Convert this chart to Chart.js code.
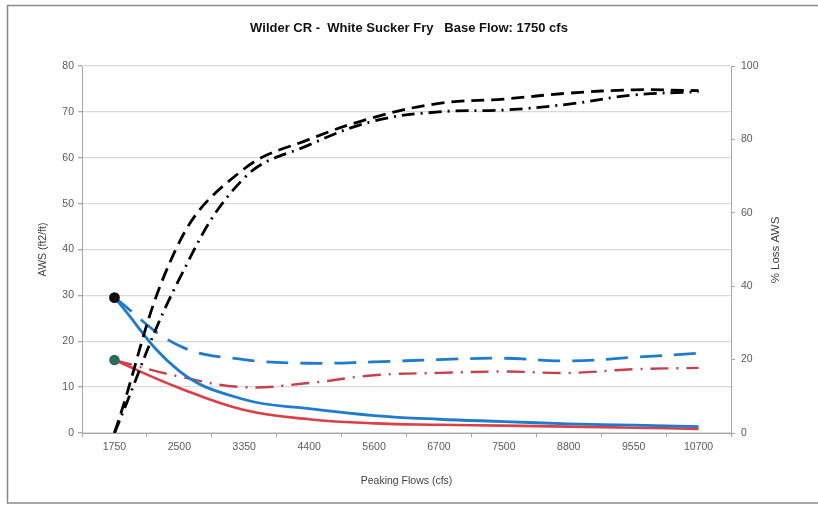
<!DOCTYPE html>
<html>
<head>
<meta charset="utf-8">
<script src="https://cdn.jsdelivr.net/npm/chart.js@4/dist/chart.umd.min.js"></script>
<style>
  html, body { margin: 0; padding: 0; background: #fff; }
  #wrap { width: 818px; height: 505px; position: relative; }
</style>
</head>
<body>
<div id="wrap"><canvas id="c" width="818" height="505"></canvas></div>
<script>
// ---- data ----
const categories = ['1750', '2500', '3350', '4400', '5600', '6700', '7500', '8800', '9550', '10700'];
const awsBlue    = [29.5, 13.5, 7.3, 5.3, 3.8, 3.0, 2.5, 2.0, 1.7, 1.4];
const awsRed     = [15.9, 9.8, 5.0, 3.0, 2.1, 1.8, 1.6, 1.4, 1.15, 0.9];
const awsBlueDash = [29.5, 19.0, 16.0, 15.2, 15.5, 16.0, 16.3, 15.7, 16.5, 17.4];
const awsRedDash  = [15.9, 12.3, 10.0, 10.9, 12.6, 13.1, 13.4, 13.1, 13.9, 14.2];
const lossDash    = [0, 52, 72, 80, 86.0, 89.8, 91.0, 92.6, 93.5, 93.3];
const lossDashDot = [0, 42, 69.5, 78.5, 85.0, 87.5, 88.0, 89.6, 92.1, 93.0];
const leftTicks  = [0, 80, 10];   // min, max, step
const rightTicks = [0, 100, 20];

const chartTitle = 'Wilder CR -  White Sucker Fry   Base Flow: 1750 cfs';
const xTitle = 'Peaking Flows (cfs)';
const yTitle = 'AWS (ft2/ft)';
const y1Title = '% Loss AWS';

const FONT = "'Liberation Sans', Arial, sans-serif";
const firstOnly = (r) => (ctx) => ctx.dataIndex === 0 ? r : 0;

const frame = {
  id: 'frame',
  beforeDraw(chart) {
    const ctx = chart.ctx;
    ctx.save();
    ctx.fillStyle = '#ffffff';
    ctx.fillRect(0, 0, chart.width, chart.height);
    ctx.strokeStyle = '#8a8a8a';
    ctx.lineWidth = 1.5;
    ctx.strokeRect(7.5, 5.5, 830, 497.5);
    ctx.restore();
  },
  afterDraw(chart) {
    const ctx = chart.ctx;
    ctx.save();
    ctx.fillStyle = '#404040';
    ctx.font = '11.5px ' + FONT;
    ctx.textAlign = 'center';
    ctx.textBaseline = 'middle';
    ctx.translate(776, 250);
    ctx.rotate(-Math.PI / 2);
    ctx.fillText(y1Title, 0, 0);
    ctx.restore();
  }
};

new Chart(document.getElementById('c'), {
  type: 'line',
  data: {
    labels: categories,
    datasets: [
      { data: lossDash, yAxisID: 'y1', borderColor: '#000', borderWidth: 2.8, borderDash: [13, 7], pointRadius: 0, tension: 0.4 },
      { data: lossDashDot, yAxisID: 'y1', borderColor: '#000', borderWidth: 2.8, borderDash: [13, 6, 2, 6], pointRadius: 0, tension: 0.4 },
      { data: awsBlue, yAxisID: 'y', borderColor: '#1f7bcc', borderWidth: 2.8, pointRadius: firstOnly(4), pointBackgroundColor: '#111', pointBorderColor: '#111', tension: 0.4 },
      { data: awsRed, yAxisID: 'y', borderColor: '#de3f46', borderWidth: 2.6, pointRadius: firstOnly(4), pointBackgroundColor: '#2b6b60', pointBorderColor: '#2b6b60', tension: 0.4 },
      { data: awsBlueDash, yAxisID: 'y', borderColor: '#1f7bcc', borderWidth: 2.8, borderDash: [22, 12], pointRadius: 0, tension: 0.4 },
      { data: awsRedDash, yAxisID: 'y', borderColor: '#c8404a', borderWidth: 2.4, borderDash: [18, 8, 2, 8], pointRadius: 0, tension: 0.4 }
    ]
  },
  options: {
    responsive: false,
    animation: false,
    devicePixelRatio: 1,
    layout: { padding: 0 },
    plugins: {
      legend: { display: false },
      tooltip: { enabled: false },
      title: {
        display: true,
        text: chartTitle,
        color: '#111',
        font: { family: FONT, size: 13, weight: 'bold' },
        padding: { top: 21, bottom: 29.4 }
      }
    },
    scales: {
      x: {
        type: 'category',
        offset: true,
        grid: { display: true, drawOnChartArea: false, offset: true, tickLength: 4, color: '#a6a6a6' },
        border: { color: '#a6a6a6', width: 1 },
        ticks: { color: '#595959', font: { family: FONT, size: 10.5 }, padding: 4, maxRotation: 0, autoSkip: false },
        title: { display: true, text: xTitle, color: '#404040', font: { family: FONT, size: 10.5 }, padding: { top: 0, bottom: 17.5 } },
        afterFit(s) { s.height = 72; }
      },
      y: {
        position: 'left',
        min: leftTicks[0], max: leftTicks[1],
        ticks: { stepSize: leftTicks[2], color: '#595959', font: { family: FONT, size: 10.5 }, padding: 4 },
        grid: { color: '#d9d9d9', lineWidth: 1.3, tickLength: 4, tickColor: '#a6a6a6' },
        border: { color: '#a6a6a6', width: 1 },
        title: { display: true, text: yTitle, color: '#404040', font: { family: FONT, size: 10.5 }, padding: { top: 37, bottom: 0 } },
        afterFit(s) { s.width = 82; }
      },
      y1: {
        position: 'right',
        min: rightTicks[0], max: rightTicks[1],
        ticks: { stepSize: rightTicks[2], color: '#595959', font: { family: FONT, size: 10.5 }, padding: 6 },
        grid: { drawOnChartArea: false, tickLength: 4, color: '#a6a6a6' },
        border: { color: '#a6a6a6', width: 1 },
        afterFit(s) { s.width = 87; }
      }
    }
  },
  plugins: [frame]
});
</script>
</body>
</html>
